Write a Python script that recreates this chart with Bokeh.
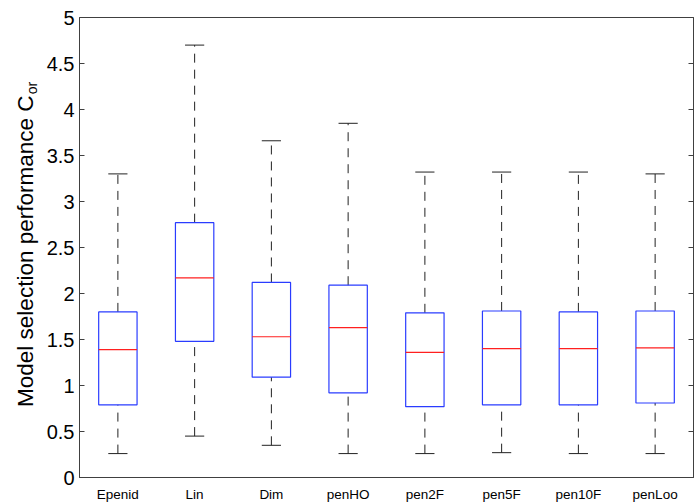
import math
from bokeh.plotting import figure
from bokeh.models import FixedTicker, LinearAxis, Range1d
from bokeh.layouts import row
from bokeh.core.properties import value
from bokeh.embed import file_html
from bokeh.resources import INLINE

# ---- data ----
methods = ["Epenid", "Lin", "Dim", "penHO", "pen2F", "pen5F", "pen10F", "penLoo"]
lower_whisker = [0.26, 0.45, 0.35, 0.26, 0.26, 0.27, 0.26, 0.26]
q1 = [0.79, 1.48, 1.09, 0.92, 0.77, 0.79, 0.79, 0.81]
median = [1.39, 2.17, 1.53, 1.63, 1.36, 1.40, 1.40, 1.41]
q3 = [1.80, 2.77, 2.12, 2.09, 1.79, 1.81, 1.80, 1.81]
upper_whisker = [3.30, 4.70, 3.66, 3.85, 3.32, 3.32, 3.32, 3.30]
y_ticks = [0, 0.5, 1, 1.5, 2, 2.5, 3, 3.5, 4, 4.5, 5]
y_label_main = "Model selection performance C"
y_label_sub = "or"

FONT = "Liberation Sans"
AXIS_COLOR = "#404040"

xs = list(range(1, len(methods) + 1))
box_w = 0.5
cap_w = 0.25

TOTAL_H = 504
LABEL_W = 40
p = figure(
    frame_width=614, frame_height=460,
    x_range=Range1d(0.5, len(methods) + 0.5), y_range=Range1d(0, 5),
    output_backend="svg", toolbar_location=None,
    min_border_left=79 - LABEL_W, min_border_right=5, min_border_top=17,
    min_border_bottom=TOTAL_H - 17 - 460,
)
p.xgrid.visible = False
p.ygrid.visible = False
p.outline_line_color = AXIS_COLOR
p.outline_line_width = 1
p.background_fill_color = "white"
p.border_fill_color = "white"

# whiskers (dashed)
p.segment(x0=xs, y0=q3, x1=xs, y1=upper_whisker, line_color="#222222",
          line_width=1, line_dash="9 7")
p.segment(x0=xs, y0=lower_whisker, x1=xs, y1=q1, line_color="#222222",
          line_width=1, line_dash="9 7")
# caps
p.segment(x0=[x - cap_w / 2 for x in xs], y0=upper_whisker,
          x1=[x + cap_w / 2 for x in xs], y1=upper_whisker,
          line_color="#222222", line_width=1)
p.segment(x0=[x - cap_w / 2 for x in xs], y0=lower_whisker,
          x1=[x + cap_w / 2 for x in xs], y1=lower_whisker,
          line_color="#222222", line_width=1)
# boxes
p.quad(left=[x - box_w / 2 for x in xs], right=[x + box_w / 2 for x in xs],
       bottom=q1, top=q3, fill_color=None, line_color="#2a3cff", line_width=1.2)
# medians
p.segment(x0=[x - box_w / 2 for x in xs], y0=median,
          x1=[x + box_w / 2 for x in xs], y1=median,
          line_color="#ff2020", line_width=1.2)

# ---- axes ----
yax = p.yaxis[0]
yax.ticker = FixedTicker(ticks=y_ticks)
yax.major_label_overrides = {t: ("%g" % t) for t in y_ticks}
yax.major_tick_in = 5
yax.major_tick_out = 0
yax.minor_tick_line_color = None
yax.axis_line_color = AXIS_COLOR
yax.major_tick_line_color = AXIS_COLOR
yax.major_label_text_font = FONT
yax.major_label_text_font_size = "20px"
yax.major_label_text_color = "black"
yax.major_label_standoff = 5

xax = p.xaxis[0]
xax.ticker = FixedTicker(ticks=xs)
xax.major_label_overrides = {x: m for x, m in zip(xs, methods)}
xax.major_tick_in = 0
xax.major_tick_out = 0
xax.minor_tick_line_color = None
xax.axis_line_color = AXIS_COLOR
xax.major_label_text_font = FONT
xax.major_label_text_font_size = "13.5px"
xax.major_label_text_color = "black"
xax.major_label_standoff = 9

rax = LinearAxis(ticker=FixedTicker(ticks=y_ticks))
rax.major_label_overrides = {t: "" for t in y_ticks}
rax.major_label_standoff = 0
rax.major_tick_in = 5
rax.major_tick_out = 0
rax.minor_tick_line_color = None
rax.axis_line_color = AXIS_COLOR
rax.major_tick_line_color = AXIS_COLOR
p.add_layout(rax, "right")

# ---- y axis label (with subscript) in a narrow side figure ----
lab = figure(
    width=LABEL_W, height=TOTAL_H, title=None,
    x_range=Range1d(0, LABEL_W), y_range=Range1d(0, TOTAL_H),
    output_backend="svg", toolbar_location=None,
    x_axis_location=None, y_axis_location=None,
    min_border=0, min_border_left=0, min_border_right=0,
    min_border_top=0, min_border_bottom=0,
)
lab.xgrid.visible = False
lab.ygrid.visible = False
lab.outline_line_color = None
lab.border_fill_color = "white"
lab.background_fill_color = "white"

join_y = TOTAL_H - 85.5
lab.text(x=[25], y=[join_y], text=[y_label_main], angle=math.pi / 2,
         text_align="right", text_baseline="alphabetic",
         text_font=value(FONT), text_font_size="22.5px", text_color="black")
lab.text(x=[31], y=[join_y + 1.5], text=[y_label_sub], angle=math.pi / 2,
         text_align="left", text_baseline="alphabetic",
         text_font=value(FONT), text_font_size="14px", text_color="black")

layout = row(lab, p)
open("out.html", "w").write(file_html(layout, INLINE))
